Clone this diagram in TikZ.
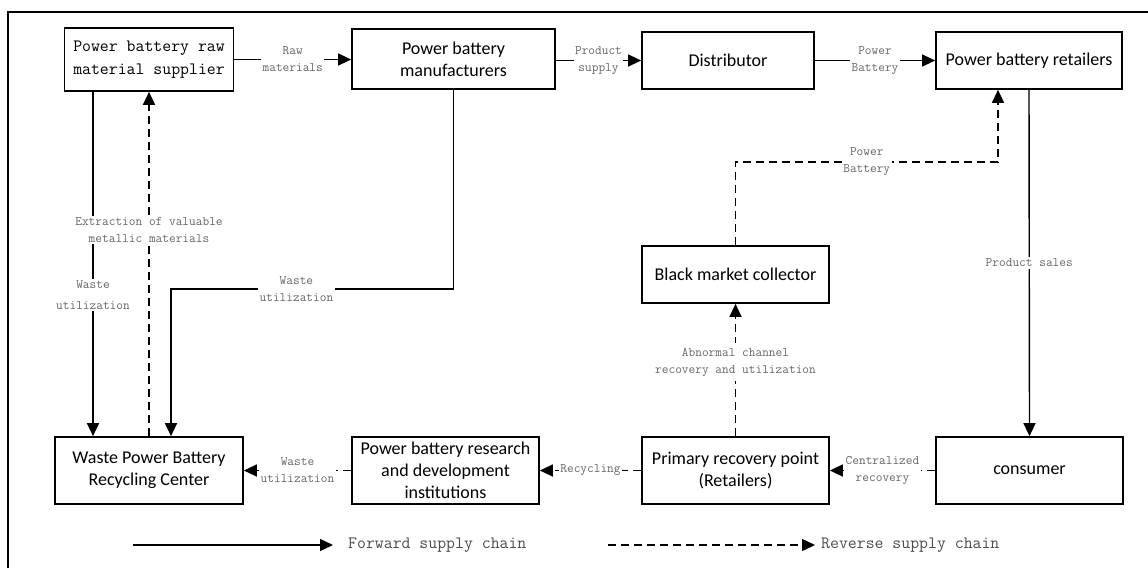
\documentclass[tikz,border=0pt]{standalone}
\usepackage{fontspec}
\setmainfont{Carlito}
\usetikzlibrary{arrows.meta,positioning,calc}

\begin{document}
\begin{tikzpicture}[
  x=1pt, y=-1pt,
  box/.style={rectangle, draw=black, line width=1.7pt, minimum width=187pt, minimum height=67pt, inner sep=2pt, align=center, font=\fontsize{18}{22}\selectfont},
  lbl/.style={fill=white, inner sep=1.5pt, align=center, text=black!60, font=\ttfamily\fontsize{13}{17}\selectfont},
  legtext/.style={anchor=west, inner sep=0pt, text=black!70, font=\ttfamily\fontsize{17.3}{20}\selectfont},
  arrow/.style={-{Triangle[length=13pt,width=12pt]}, line width=1.4pt},
  rarrow/.style={arrow, dash pattern=on 8pt off 5pt},
]
\useasboundingbox (0,0) rectangle (1148,568);

% frame
\draw[line width=1.5pt] (8,568) -- (8,12) -- (1148,12);

% upper row
\node[box, minimum width=169pt, minimum height=63pt, font=\ttfamily\fontsize{17.3}{23}\selectfont] (supplier) at (149,59.5) {Power battery raw\\material supplier};
\node[box, minimum width=203pt, minimum height=60pt] (maker) at (453.5,59) {Power battery\\manufacturers};
\node[box, minimum width=172pt, minimum height=57pt] (distrib) at (728,60.5) {Distributor};
\node[box, minimum width=186pt, minimum height=57pt] (retail) at (1029,60.5) {Power battery retailers};

% middle
\node[box, minimum height=57pt] (black) at (735.5,274.5) {Black market collector};

% lower row
\node[box, minimum width=188pt] (center) at (149,470.5) {Waste Power Battery\\Recycling Center};
\node[box] (rnd) at (445.5,470.5) {Power battery research\\and development\\institutions};
\node[box] (primary) at (735.5,470.5) {Primary recovery point\\(Retailers)};
\node[box] (consumer) at (1029.5,470.5) {consumer};

% bends
\coordinate (mbend) at (171,289);
\coordinate (pbend) at (998,162);

% forward flow
\draw[arrow] (supplier.east) -- node[lbl] {Raw\\materials} (supplier.east -| maker.west);
\draw[arrow] (maker.east |- distrib.west) -- node[lbl] {Product\\supply} (distrib.west);
\draw[arrow] (distrib.east) -- node[lbl] {Power\\Battery} (retail.west);
\draw[arrow] (retail.south) -- node[lbl] {Product sales} (consumer.north);
\draw[arrow] ([xshift=-56pt]supplier.south) -- node[lbl, pos=0.59] {Waste\\[4pt]utilization} ([xshift=-56pt]center.north);
\draw[arrow] (maker.south) |- node[lbl, pos=0.778] {Waste\\utilization} (mbend) -- (mbend |- center.north);

% reverse flow
\draw[rarrow] (center.north) -- node[lbl, pos=0.6] {Extraction of valuable\\metallic materials} (supplier.south);
\draw[rarrow] (black.north) |- node[lbl, pos=0.75] {Power\\Battery} (pbend) -- (pbend |- retail.south);
\draw[rarrow] (primary.north) -- node[lbl, pos=0.56, inner sep=5pt] {Abnormal channel\\recovery and utilization} (black.south);
\draw[rarrow] (consumer.west) -- node[lbl] {Centralized\\recovery} (primary.east);
\draw[rarrow] (primary.west) -- node[lbl] {Recycling} (rnd.east);
\draw[rarrow] (rnd.west) -- node[lbl] {Waste\\utilization} (center.east);

% legend
\coordinate (fwdA) at (133,545);
\coordinate (fwdB) at (333,545);
\coordinate (revA) at (608,545);
\coordinate (revB) at (815,545);
\node[legtext] (fwdtext) at (348,545) {Forward supply chain};
\node[legtext] (revtext) at (821,545) {Reverse supply chain};
\draw[arrow] (fwdA) -- (fwdB);
\draw[rarrow] (revA) -- (revB);

\end{tikzpicture}
\end{document}
